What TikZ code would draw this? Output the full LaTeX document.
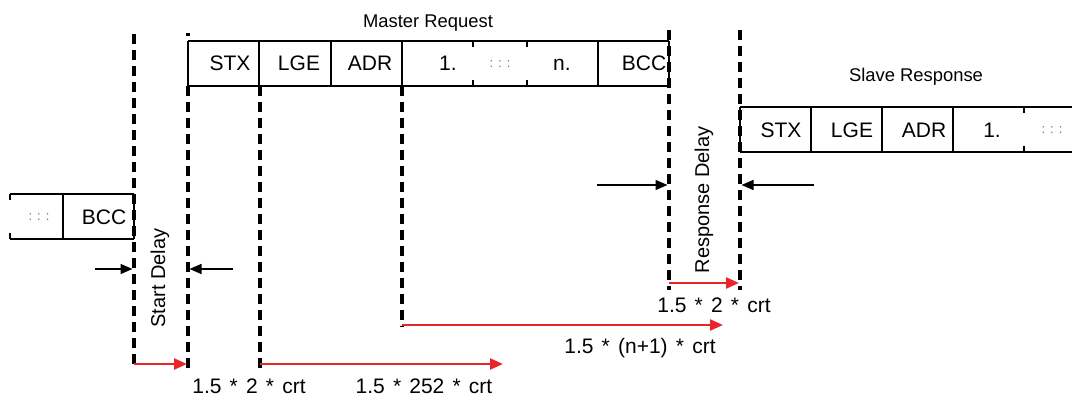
\documentclass[tikz,border=0pt]{standalone}
\usepackage{fontspec}
\setmainfont{Liberation Sans}
\usetikzlibrary{arrows.meta}
\definecolor{arrred}{RGB}{232,37,43}
\definecolor{dotgray}{RGB}{110,110,110}
\begin{document}
\begin{tikzpicture}[x=1pt,y=-1pt,
  ttl/.style={font=\fontsize{18.4}{22}\selectfont, inner sep=0pt, anchor=base},
  lbl/.style={font=\fontsize{21}{25}\selectfont, inner sep=0pt, anchor=base},
  crt/.style={lbl, execute at begin node={\spaceskip=8.2pt\relax}},
  rot/.style={font=\fontsize{20}{24}\selectfont, inner sep=0pt, anchor=center, rotate=90},
  dts/.style={font=\fontsize{13}{15}\selectfont, text=dotgray, inner sep=0pt, anchor=center},
  frame/.style={line width=1.4pt},
  dline/.style={line width=3.2pt, dash pattern=on 10pt off 6pt},
  redarrow/.style={draw=arrred, line width=2.4pt, -{Triangle[length=13pt,width=11pt]}},
  blkarrow/.style={line width=1.5pt, -{Triangle[length=12pt,width=10pt]}}
]
\useasboundingbox (0,0) rectangle (1072,396);

% ---------- titles ----------
\node[ttl] (mtitle) at (428,28) {Master Request};
\node[ttl] (stitle) at (916,82) {Slave Response};

% ---------- left partial frame ----------
\draw[frame] (10,194) -- (134,194);
\draw[frame] (10,239) -- (134,239);
\draw[frame] (10,194) -- (10,200);
\draw[frame] (10,233) -- (10,239);
\draw[frame] (63,194) -- (63,239);
\draw[frame] (134,194) -- (134,239);
\node[dts] (ldots) at (39,217) {:\hspace{5pt}:\hspace{5pt}:};
\node[lbl] (lbcc) at (104,224) {BCC};

% ---------- master frame ----------
\draw[frame] (188,41) -- (669,41);
\draw[frame] (188,86) -- (669,86);
\foreach \x in {188,259,331,402,598,669} \draw[frame] (\x,41) -- (\x,86);
\foreach \x in {473,527} {\draw[frame] (\x,41) -- (\x,47); \draw[frame] (\x,80) -- (\x,86);}
\node[lbl] (mstx) at (230,71) {STX};
\node[lbl] (mlge) at (299,71) {LGE};
\node[lbl] (madr) at (370,71) {ADR};
\node[lbl] (mone) at (448,71) {1.};
\node[dts] (mdots) at (500,64) {:\hspace{5pt}:\hspace{5pt}:};
\node[lbl] (mn) at (562,71) {n.};
\node[lbl] (mbcc) at (644,71) {BCC};

% ---------- slave frame ----------
\draw[frame] (740,107) -- (1072,107);
\draw[frame] (740,152) -- (1072,152);
\foreach \x in {740,811,882,953} \draw[frame] (\x,107) -- (\x,152);
\draw[frame] (1024,107) -- (1024,113);
\draw[frame] (1024,146) -- (1024,152);
\node[lbl] (sstx) at (781,137) {STX};
\node[lbl] (slge) at (852,137) {LGE};
\node[lbl] (sadr) at (924,137) {ADR};
\node[lbl] (sone) at (992,137) {1.};
\node[dts] (sdots) at (1052,130) {:\hspace{5pt}:\hspace{5pt}:};

% ---------- dashed time markers ----------
\coordinate (aT) at (134,34);  \coordinate (aB) at (134,370);
\coordinate (bT) at (188,33);  \coordinate (bT2) at (188,36);
\coordinate (bM) at (188,86);  \coordinate (bB) at (188,370);
\coordinate (cT) at (260,86);  \coordinate (cB) at (260,370);
\coordinate (dT) at (402,86);  \coordinate (dB) at (402,327);
\coordinate (eT) at (669,30);  \coordinate (eB) at (669,290);
\coordinate (fT) at (740,30);  \coordinate (fB) at (740,290);
\draw[dline] (aT) -- (aB);
\draw[dline] (bT) -- (bT2);
\draw[dline] (bM) -- (bB);
\draw[dline] (cT) -- (cB);
\draw[dline] (dT) -- (dB);
\draw[dline] (eT) -- (eB);
\draw[dline] (fT) -- (fB);

% ---------- delay labels ----------
\node[rot] (sdelay) at (160,278) {Start Delay};
\node[rot] (rdelay) at (704,200) {Response Delay};

% ---------- black arrows ----------
\coordinate (ba1s) at (95,269);  \coordinate (ba1e) at (132.5,269);
\coordinate (ba2s) at (233,269); \coordinate (ba2e) at (189.5,269);
\coordinate (ba3s) at (597,185); \coordinate (ba3e) at (667.5,185);
\coordinate (ba4s) at (814,185); \coordinate (ba4e) at (741.5,185);
\draw[blkarrow] (ba1s) -- (ba1e);
\draw[blkarrow] (ba2s) -- (ba2e);
\draw[blkarrow] (ba3s) -- (ba3e);
\draw[blkarrow] (ba4s) -- (ba4e);

% ---------- red timing arrows ----------
\coordinate (ra1s) at (134,364); \coordinate (ra1e) at (187,364);
\coordinate (ra2s) at (260,364); \coordinate (ra2e) at (503,364);
\coordinate (ra3s) at (402,325); \coordinate (ra3e) at (723,325);
\coordinate (ra4s) at (669,283); \coordinate (ra4e) at (739,283);
\draw[redarrow] (ra1s) -- (ra1e);
\draw[redarrow] (ra2s) -- (ra2e);
\draw[redarrow] (ra3s) -- (ra3e);
\draw[redarrow] (ra4s) -- (ra4e);

% ---------- timing labels ----------
\node[crt] (t1) at (249,393) {1.5 * 2 * crt};
\node[crt] (t2) at (424,393) {1.5 * 252 * crt};
\node[crt] (t3) at (640,353) {1.5 * (n+1) * crt};
\node[crt] (t4) at (714,312) {1.5 * 2 * crt};
\end{tikzpicture}
\end{document}
